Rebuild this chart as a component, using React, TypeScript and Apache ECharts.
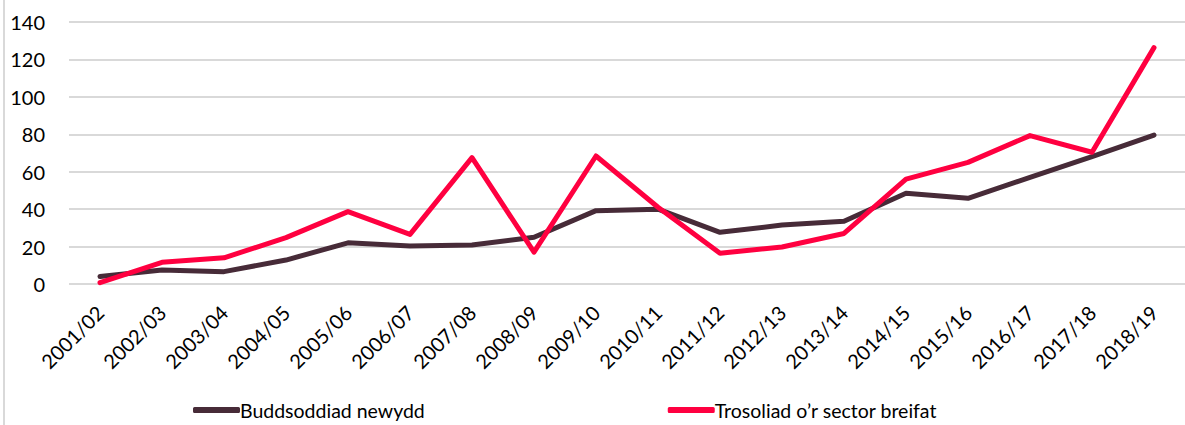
import React, { useEffect, useRef } from "react";
import * as echarts from "echarts";

const categories = [
  "2001/02", "2002/03", "2003/04", "2004/05", "2005/06", "2006/07",
  "2007/08", "2008/09", "2009/10", "2010/11", "2011/12", "2012/13",
  "2013/14", "2014/15", "2015/16", "2016/17", "2017/18", "2018/19",
];
const newInvestment = [4, 7.5, 6.6, 12.8, 22, 20.3, 20.8, 25, 39.2, 40, 27.6, 31.5, 33.5, 48.5, 45.8, 57, 68, 79.6];
const leverage = [0.7, 11.6, 14, 24.8, 38.7, 26.5, 67.5, 17, 68.4, 41, 16.4, 19.8, 27, 56, 65, 79.3, 70.4, 126.3];
const yTicks = { min: 0, max: 140, interval: 20 };
const seriesNames = ["Buddsoddiad newydd", "Trosoliad o\u2019r sector breifat"];

const FONT = "Lato, 'Noto Sans', sans-serif";

export default function App() {
  const ref = useRef<HTMLDivElement>(null);
  useEffect(() => {
    if (!ref.current) return;
    const chart = echarts.init(ref.current, null, { renderer: "svg" });
    chart.setOption({
      animation: false,
      backgroundColor: "#ffffff",
      textStyle: { fontFamily: FONT },
      grid: { left: 69, top: 22, bottom: 141, width: 1120, containLabel: false },
      xAxis: {
        type: "category",
        data: categories,
        boundaryGap: true,
        axisLine: { show: false },
        axisTick: { show: false },
        axisLabel: { rotate: 45, color: "#000", fontSize: 20, fontFamily: FONT, margin: 25, interval: 0 },
      },
      yAxis: {
        type: "value",
        min: yTicks.min,
        max: yTicks.max,
        interval: yTicks.interval,
        axisLine: { show: false },
        axisTick: { show: false },
        axisLabel: { color: "#000", fontSize: 20, fontFamily: FONT, margin: 24 },
        splitLine: { lineStyle: { color: "#D9D9D9", width: 2 } },
      },
      legend: {
        bottom: 0,
        left: 188,
        itemGap: 243,
        itemWidth: 47,
        itemHeight: 6,
        icon: "roundRect",
        textStyle: { fontSize: 19.5, color: "#000", fontFamily: FONT, padding: [0, 0, 0, -5] },
        data: seriesNames,
      },
      graphic: [
        { type: "line", shape: { x1: 4, y1: 0, x2: 4, y2: 425 }, style: { stroke: "#D9D9D9", lineWidth: 2 } },
      ],
      series: [
        {
          name: seriesNames[0],
          type: "line",
          data: newInvestment,
          symbol: "none",
          lineStyle: { color: "#472B38", width: 5, cap: "round", join: "round" },
          itemStyle: { color: "#472B38" },
        },
        {
          name: seriesNames[1],
          type: "line",
          data: leverage,
          symbol: "none",
          lineStyle: { color: "#FF0040", width: 5, cap: "round", join: "round" },
          itemStyle: { color: "#FF0040" },
        },
      ],
    });
    return () => chart.dispose();
  }, []);
  return (
    <div
      ref={ref}
      style={{ position: "fixed", left: 0, top: 0, width: 1185, height: 425 }}
    />
  );
}
